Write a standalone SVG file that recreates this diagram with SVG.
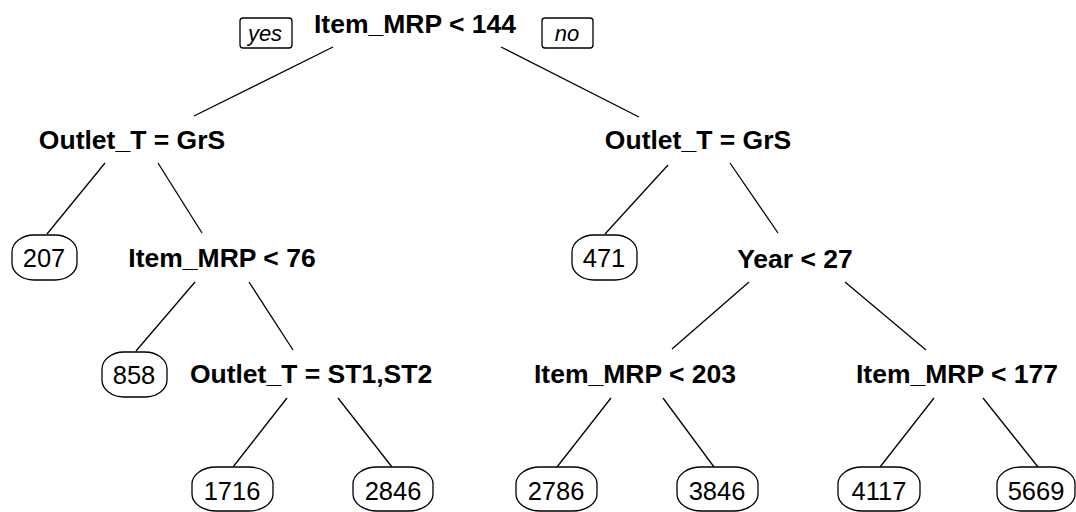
<svg xmlns="http://www.w3.org/2000/svg" width="1076" height="512" viewBox="0 0 1076 512">
<style>
.split{font-family:"Liberation Sans",Arial,sans-serif;font-weight:bold;font-size:26.5px;fill:#000;text-anchor:middle}
.leaf{font-family:"Liberation Sans",Arial,sans-serif;font-size:25.5px;fill:#000;text-anchor:middle}
.lab{font-family:"Liberation Sans",Arial,sans-serif;font-style:italic;font-size:22px;fill:#000;text-anchor:middle}
.box{fill:#fff;stroke:#000;stroke-width:1.3}
.edge{stroke:#000;stroke-width:1.3;fill:none}
</style>
<rect width="1076" height="512" fill="#fff"/>
<g id="connectors">
<line class="edge" x1="333" y1="47" x2="194" y2="116"/>
<line class="edge" x1="501" y1="47" x2="639" y2="117"/>
<line class="edge" x1="105" y1="163" x2="47" y2="234"/>
<line class="edge" x1="158" y1="163" x2="202" y2="233"/>
<line class="edge" x1="668" y1="165" x2="605" y2="234"/>
<line class="edge" x1="730" y1="163" x2="778" y2="233"/>
<line class="edge" x1="195" y1="282" x2="136" y2="351"/>
<line class="edge" x1="249" y1="282" x2="293" y2="350"/>
<line class="edge" x1="749" y1="282" x2="672" y2="349"/>
<line class="edge" x1="845" y1="282" x2="926" y2="350"/>
<line class="edge" x1="287" y1="398" x2="233" y2="467"/>
<line class="edge" x1="338" y1="398" x2="392" y2="467"/>
<line class="edge" x1="611" y1="398" x2="557" y2="467"/>
<line class="edge" x1="663" y1="398" x2="714" y2="467"/>
<line class="edge" x1="934" y1="398" x2="880" y2="467"/>
<line class="edge" x1="983" y1="398" x2="1038" y2="467"/>
</g>
<g id="n1"><text class="split" x="415" y="33">Item_MRP &lt; 144</text></g>
<g id="yes"><rect class="box" x="240" y="18" width="52" height="30" rx="3"/><text class="lab" x="265" y="41">yes</text></g>
<g id="no"><rect class="box" x="542" y="18" width="51" height="30" rx="3"/><text class="lab" x="567" y="41">no</text></g>
<g id="n2"><text class="split" x="132" y="149">Outlet_T = GrS</text></g>
<g id="n3"><text class="split" x="698" y="149">Outlet_T = GrS</text></g>
<g id="n4"><rect class="box" x="12" y="235" width="65" height="45" rx="22" ry="17"/><text class="leaf" x="44" y="267">207</text></g>
<g id="n5"><text class="split" x="222" y="267">Item_MRP &lt; 76</text></g>
<g id="n6"><rect class="box" x="572" y="235" width="65" height="45" rx="22" ry="17"/><text class="leaf" x="604" y="267">471</text></g>
<g id="n7"><text class="split" x="795" y="268">Year &lt; 27</text></g>
<g id="n10"><rect class="box" x="102" y="352" width="65" height="45" rx="22" ry="17"/><text class="leaf" x="134" y="384">858</text></g>
<g id="n11"><text class="split" x="311" y="383">Outlet_T = ST1,ST2</text></g>
<g id="n14"><text class="split" x="635" y="383">Item_MRP &lt; 203</text></g>
<g id="n15"><text class="split" x="957" y="383">Item_MRP &lt; 177</text></g>
<g id="n22"><rect class="box" x="192" y="467" width="81" height="44" rx="24" ry="17"/><text class="leaf" x="232" y="500">1716</text></g>
<g id="n23"><rect class="box" x="353" y="467" width="80" height="44" rx="24" ry="17"/><text class="leaf" x="393" y="500">2846</text></g>
<g id="n28"><rect class="box" x="516" y="467" width="81" height="44" rx="24" ry="17"/><text class="leaf" x="556" y="500">2786</text></g>
<g id="n29"><rect class="box" x="677" y="467" width="81" height="44" rx="24" ry="17"/><text class="leaf" x="717" y="500">3846</text></g>
<g id="n30"><rect class="box" x="838" y="467" width="82" height="44" rx="24" ry="17"/><text class="leaf" x="879" y="500">4117</text></g>
<g id="n31"><rect class="box" x="997" y="467" width="78" height="44" rx="24" ry="17"/><text class="leaf" x="1036" y="500">5669</text></g>
</svg>
